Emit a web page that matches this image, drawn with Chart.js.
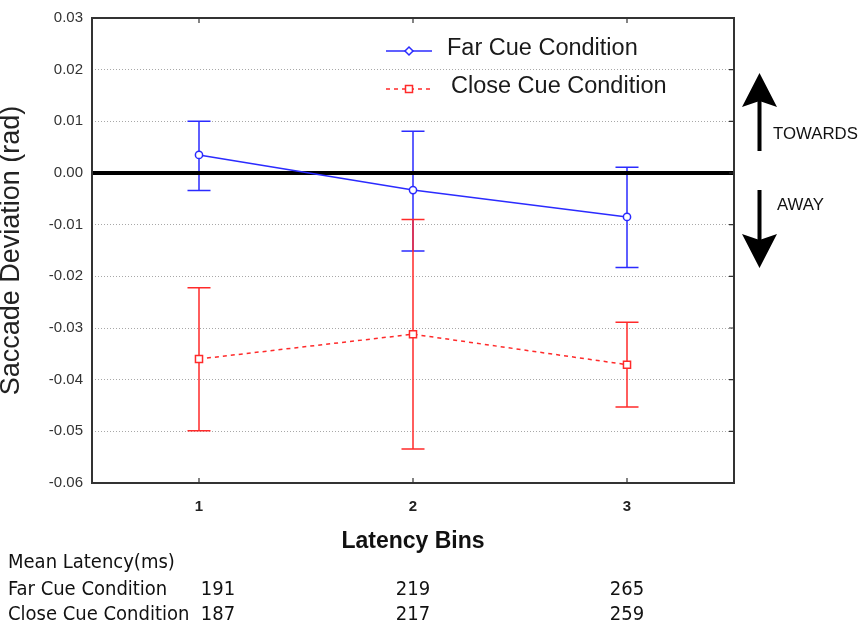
<!DOCTYPE html>
<html>
<head>
<meta charset="utf-8">
<script src="https://cdn.jsdelivr.net/npm/chart.js@4/dist/chart.umd.min.js"></script>
<style>
  html, body { margin: 0; padding: 0; background: #ffffff; }
  #wrap { width: 861px; height: 625px; }
</style>
</head>
<body>
<div id="wrap"><canvas id="c" width="861" height="625"></canvas></div>
<script>
// ---- data ----
const bins = [1, 2, 3];
const binLabels = ['1', '2', '3'];
const yTickValues = [-0.06, -0.05, -0.04, -0.03, -0.02, -0.01, 0.00, 0.01, 0.02, 0.03];

const farLabel = 'Far Cue Condition';
const farMean  = [0.0035, -0.0033, -0.0085];
const farUpper = [0.0100, 0.0081, 0.0011];
const farLower = [-0.0034, -0.0151, -0.0183];

const closeLabel = 'Close Cue Condition';
const closeMean  = [-0.0360, -0.0312, -0.0371];
const closeUpper = [-0.0222, -0.0090, -0.0289];
const closeLower = [-0.0499, -0.0534, -0.0453];

const tableTitle = 'Mean Latency(ms)';
const farLatency = [191, 219, 265];
const closeLatency = [187, 217, 259];

const BLUE = '#2b2bff';
const RED = '#ff2a2a';

function pts(means) { return bins.map((b, i) => ({ x: b, y: means[i] })); }

const errorBars = [
  { color: BLUE, upper: farUpper, lower: farLower },
  { color: RED, upper: closeUpper, lower: closeLower }
];

const framePlugin = {
  id: 'frameAndBars',
  beforeDatasetsDraw(chart) {
    const { ctx, chartArea: a, scales: { x, y } } = chart;
    ctx.save();
    // error bars
    ctx.lineWidth = 1.5;
    errorBars.forEach(eb => {
      ctx.strokeStyle = eb.color;
      bins.forEach((b, i) => {
        const px = x.getPixelForValue(b);
        const yu = y.getPixelForValue(eb.upper[i]);
        const yl = y.getPixelForValue(eb.lower[i]);
        ctx.beginPath();
        ctx.moveTo(px, yu); ctx.lineTo(px, yl);
        ctx.moveTo(px - 11.5, yu); ctx.lineTo(px + 11.5, yu);
        ctx.moveTo(px - 11.5, yl); ctx.lineTo(px + 11.5, yl);
        ctx.stroke();
      });
    });
    // zero line
    const y0 = y.getPixelForValue(0);
    ctx.strokeStyle = '#000';
    ctx.lineWidth = 4;
    ctx.beginPath();
    ctx.moveTo(a.left, y0); ctx.lineTo(a.right, y0);
    ctx.stroke();
    // frame
    ctx.strokeStyle = '#333';
    ctx.lineWidth = 2;
    ctx.strokeRect(a.left, a.top, a.right - a.left, a.bottom - a.top);
    // inward ticks
    ctx.lineWidth = 1.2;
    ctx.beginPath();
    bins.forEach(b => {
      const px = x.getPixelForValue(b);
      ctx.moveTo(px, a.top); ctx.lineTo(px, a.top + 5);
      ctx.moveTo(px, a.bottom); ctx.lineTo(px, a.bottom - 5);
    });
    yTickValues.forEach(v => {
      const py = y.getPixelForValue(v);
      ctx.moveTo(a.right, py); ctx.lineTo(a.right - 5, py);
    });
    ctx.stroke();
    ctx.restore();
  },
  afterDraw(chart) {
    const { ctx, scales: { x } } = chart;
    ctx.save();
    // legend
    const legend = [
      { label: farLabel, color: BLUE, dash: [], y: 51, tx: 447, marker: 'diamond' },
      { label: closeLabel, color: RED, dash: [4, 4], y: 89, tx: 451, marker: 'square' }
    ];
    legend.forEach(l => {
      ctx.strokeStyle = l.color;
      ctx.lineWidth = 1.5;
      ctx.setLineDash(l.dash);
      ctx.beginPath();
      ctx.moveTo(386, l.y); ctx.lineTo(432, l.y);
      ctx.stroke();
      ctx.setLineDash([]);
      ctx.fillStyle = '#fff';
      ctx.beginPath();
      if (l.marker === 'diamond') {
        ctx.moveTo(409, l.y - 4); ctx.lineTo(413, l.y); ctx.lineTo(409, l.y + 4); ctx.lineTo(405, l.y); ctx.closePath();
      } else {
        ctx.rect(405.5, l.y - 3.5, 7, 7);
      }
      ctx.fill(); ctx.stroke();
      ctx.fillStyle = '#1a1a1a';
      ctx.font = '23.5px "Liberation Sans", Arial, sans-serif';
      ctx.textBaseline = 'middle';
      ctx.textAlign = 'left';
      ctx.fillText(l.label, l.tx, l.y - 2);
    });
    // arrows
    ctx.fillStyle = '#000';
    ctx.fillRect(757.5, 100, 4, 51);
    ctx.beginPath();
    ctx.moveTo(759.5, 73); ctx.lineTo(777, 107); ctx.lineTo(759.5, 101); ctx.lineTo(742, 107); ctx.closePath();
    ctx.fill();
    ctx.fillRect(757.5, 190, 4, 50);
    ctx.beginPath();
    ctx.moveTo(759.5, 268); ctx.lineTo(777, 234); ctx.lineTo(759.5, 240); ctx.lineTo(742, 234); ctx.closePath();
    ctx.fill();
    ctx.font = '16.8px "Liberation Sans", Arial, sans-serif';
    ctx.textBaseline = 'middle';
    ctx.fillStyle = '#111';
    ctx.fillText('TOWARDS', 773, 134);
    ctx.fillText('AWAY', 777, 205);
    // latency table
    ctx.font = '20px "DejaVu Sans Condensed", "Liberation Sans", Arial, sans-serif';
    ctx.fillStyle = '#111';
    ctx.textAlign = 'left';
    ctx.fillText(tableTitle, 8, 563);
    ctx.fillText(farLabel, 8, 590);
    ctx.fillText(closeLabel, 8, 615);
    ctx.textAlign = 'center';
    bins.forEach((b, i) => {
      const px = x.getPixelForValue(b) + (i === 0 ? 19 : 0);
      ctx.fillText(String(farLatency[i]), px, 590);
      ctx.fillText(String(closeLatency[i]), px, 615);
    });
    ctx.restore();
  }
};

new Chart(document.getElementById('c'), {
  type: 'line',
  data: {
    datasets: [
      {
        label: farLabel,
        data: pts(farMean),
        borderColor: BLUE,
        borderWidth: 1.5,
        pointStyle: 'circle',
        pointRadius: 3.6,
        pointBorderWidth: 1.5,
        pointBackgroundColor: '#fff',
        pointBorderColor: BLUE,
        tension: 0
      },
      {
        label: closeLabel,
        data: pts(closeMean),
        borderColor: RED,
        borderWidth: 1.5,
        borderDash: [4, 4],
        pointStyle: 'rect',
        pointRadius: 5,
        pointBorderWidth: 1.5,
        pointBackgroundColor: '#fff',
        pointBorderColor: RED,
        tension: 0
      }
    ]
  },
  options: {
    responsive: false,
    animation: false,
    devicePixelRatio: 1,
    layout: { padding: { left: 0, right: 127, top: 13, bottom: 0 } },
    plugins: { legend: { display: false }, tooltip: { enabled: false } },
    scales: {
      x: {
        type: 'linear',
        min: 0.5,
        max: 3.5,
        afterBuildTicks: s => { s.ticks = bins.map(v => ({ value: v })); },
        afterFit: s => { s.height = 142; },
        grid: { display: false, drawTicks: false },
        border: { display: false },
        ticks: {
          padding: 15,
          color: '#222',
          font: { family: 'Arial, "Liberation Sans", sans-serif', size: 15, weight: 'bold' },
          callback: (v) => binLabels[bins.indexOf(v)] ?? ''
        },
        title: {
          display: true,
          text: 'Latency Bins',
          color: '#111',
          font: { family: 'Arial, "Liberation Sans", sans-serif', size: 23, weight: 'bold', lineHeight: 1.2 },
          padding: { top: 0, bottom: 70 }
        }
      },
      y: {
        type: 'linear',
        min: -0.06,
        max: 0.03,
        afterBuildTicks: s => { s.ticks = yTickValues.map(v => ({ value: v })); },
        afterFit: s => { s.width = 92; },
        grid: {
          drawTicks: false,
          lineWidth: 1,
          color: c => {
            const v = c.tick ? c.tick.value : null;
            if (v === null || Math.abs(v) < 1e-9 || v === -0.06 || v === 0.03) return 'rgba(0,0,0,0)';
            return '#a8a8a8';
          }
        },
        border: { display: false, dash: [1, 2] },
        ticks: {
          padding: 9,
          color: '#333',
          font: { family: 'Arial, "Liberation Sans", sans-serif', size: 15 },
          callback: v => Number(v).toFixed(2)
        },
        title: {
          display: true,
          text: 'Saccade Deviation (rad)',
          color: '#222',
          font: { family: 'Arial, "Liberation Sans", sans-serif', size: 27, lineHeight: 0.85 },
          padding: { top: 0, bottom: 0 }
        }
      }
    }
  },
  plugins: [framePlugin]
});
</script>
</body>
</html>
